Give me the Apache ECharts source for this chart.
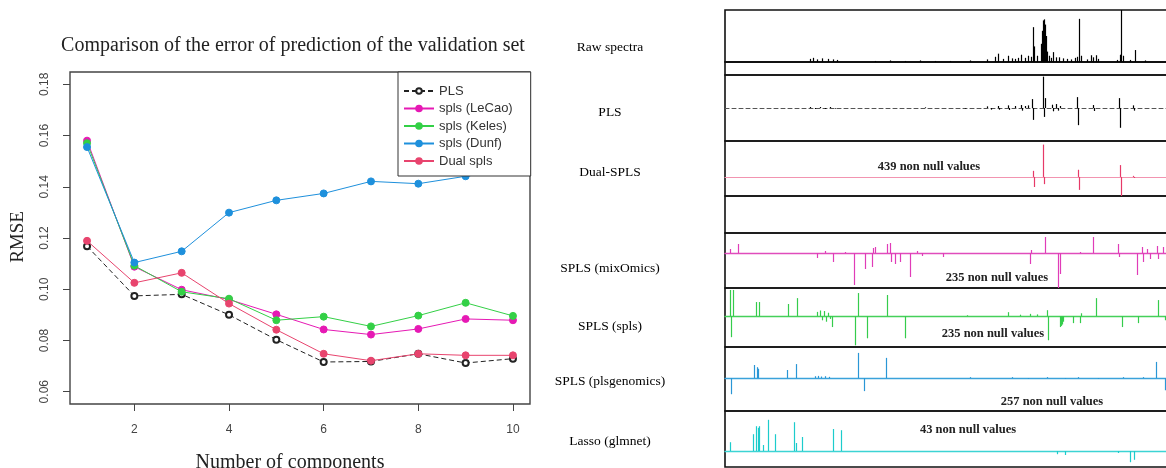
<!DOCTYPE html>
<html><head><meta charset="utf-8">
<script src="https://cdn.jsdelivr.net/npm/echarts@6/dist/echarts.min.js"></script>
<style>html,body{margin:0;padding:0;background:#fff}#c{width:1166px;height:468px}</style>
</head><body><div id="c"></div>
<script>
// ---------- Left chart data ----------
const components = [1, 2, 3, 4, 5, 6, 7, 8, 9, 10];
const xTicks = [2, 4, 6, 8, 10];
const yTicks = [0.06, 0.08, 0.10, 0.12, 0.14, 0.16, 0.18];
const seriesNames = ['PLS', 'spls (LeCao)', 'spls (Keles)', 'spls (Dunf)', 'Dual spls'];
const rmsePLS   = [0.1168, 0.0974, 0.0980, 0.0900, 0.0803, 0.0716, 0.0718, 0.0748, 0.0712, 0.0729];
const rmseLeCao = [0.1580, 0.1088, 0.0998, 0.0960, 0.0902, 0.0843, 0.0823, 0.0845, 0.0884, 0.0879];
const rmseKeles = [0.1570, 0.1092, 0.0990, 0.0963, 0.0879, 0.0893, 0.0855, 0.0897, 0.0947, 0.0896];
const rmseDunf  = [0.1555, 0.1104, 0.1148, 0.1299, 0.1347, 0.1374, 0.1421, 0.1412, 0.1441, 0.1465];
const rmseDual  = [0.1189, 0.1025, 0.1064, 0.0944, 0.0842, 0.0748, 0.0721, 0.0748, 0.0742, 0.0742];

// ---------- Right panels data: [variable index, coefficient] ----------
const panelLabels = ['Raw spectra', 'PLS', 'Dual-SPLS', '', 'SPLS (mixOmics)', 'SPLS (spls)', 'SPLS (plsgenomics)', 'Lasso (glmnet)'];
const nonNullLabels = ['439 non null values', '235 non null values', '235 non null values', '257 non null values', '43 non null values'];
const rawSpectrum = [[85,0.06],[88,0.08],[92,0.05],[97,0.07],[103,0.06],[108,0.05],[112,0.04],[150,0.02],[165,0.03],[180,0.02],[195,0.03],[210,0.02],[225,0.02],[245,0.03],[262,0.05],[270,0.1],[273,0.16],[278,0.06],[283,0.12],[287,0.07],[290,0.06],[293,0.08],[296,0.14],[300,0.08],[303,0.12],[306,0.1],[308,0.67],[309,0.3],[312,0.12],[316,0.35],[317,0.6],[318,0.8],[319,0.82],[320,0.72],[321,0.5],[322,0.2],[324,0.12],[326,0.08],[328,0.19],[331,0.09],[334,0.09],[338,0.07],[342,0.06],[346,0.05],[350,0.08],[352,0.1],[354,0.83],[356,0.12],[362,0.05],[366,0.13],[368,0.09],[371,0.13],[373,0.06],[392,0.04],[395,0.14],[396,1.3],[398,0.12],[405,0.04],[410,0.23],[420,0.03]];
const plsCoef = [[85,0.03],[90,-0.03],[95,0.03],[100,-0.03],[105,0.03],[110,-0.02],[200,0.02],[240,-0.02],[262,0.05],[266,-0.05],[273,0.06],[274,-0.05],[283,0.08],[284,-0.06],[290,0.06],[296,0.09],[297,-0.08],[300,0.06],[303,0.08],[307,0.27],[308,-0.36],[318,0.95],[319,-0.27],[320,0.3],[327,0.1],[328,-0.1],[331,0.12],[333,-0.08],[335,0.06],[352,0.33],[353,-0.52],[368,0.09],[369,-0.09],[394,0.3],[395,-0.6],[408,0.08],[409,-0.08]];
const dualCoef = [[308,0.17],[309,-0.28],[318,0.9],[319,-0.2],[353,0.2],[354,-0.36],[395,0.33],[396,-0.53],[408,0.03],[409,-0.03]];
const mixOmicsCoef = [[5,0.2],[13,0.45],[92,-0.25],[100,0.1],[108,-0.45],[120,0.05],[129,-1.6],[140,-0.8],[147,-0.7],[148,0.25],[150,0.3],[162,0.45],[165,0.5],[166,-0.45],[170,-0.55],[175,-0.45],[185,-1.2],[192,0.1],[197,-0.15],[218,-0.2],[305,-0.55],[306,0.15],[320,0.8],[333,-1.75],[335,-1.05],[355,0.05],[368,0.8],[393,0.45],[394,-0.2],[412,-1.1],[417,0.3],[418,-0.45],[422,0.2],[425,-0.3],[432,0.35],[433,-0.3],[438,0.3]];
const splsCoef = [[5,0.93],[6,-0.75],[8,0.93],[31,0.5],[34,0.5],[63,0.43],[72,0.64],[92,0.15],[95,0.2],[97,-0.15],[99,0.18],[101,-0.2],[103,0.12],[105,-0.1],[107,-0.39],[130,-1.04],[133,0.82],[142,-0.79],[162,0.75],[180,-0.79],[242,0.03],[283,0.14],[295,0.05],[305,0.08],[312,0.06],[322,0.21],[323,-0.86],[335,-0.39],[336,-0.35],[337,-0.3],[338,-0.2],[348,-0.25],[355,-0.25],[356,0.1],[371,0.64],[397,-0.39],[413,-0.25],[433,0.57],[440,-0.15]];
const plsgenomicsCoef = [[6,-0.52],[29,0.42],[32,0.35],[33,0.3],[62,0.26],[71,0.45],[90,0.06],[93,0.07],[96,0.05],[100,0.06],[104,0.04],[133,0.81],[139,-0.42],[161,0.65],[245,0.03],[287,0.03],[303,-0.03],[322,0.03],[340,-0.03],[353,0.03],[373,-0.03],[398,0.03],[418,0.03],[431,0.52],[440,-0.39]];
const lassoCoef = [[5,0.22],[28,0.42],[31,0.62],[33,0.58],[34,0.62],[38,0.15],[43,0.78],[50,0.42],[69,0.72],[71,0.2],[77,0.35],[108,0.55],[116,0.52],[332,-0.08],[340,-0.1],[393,-0.05],[405,-0.28],[409,-0.22]];

// ---------- layout ----------
const SERIF = '"Liberation Serif", "DejaVu Serif", serif';
const SANS = '"Liberation Sans", Arial, sans-serif';
const lineColors = ['#222222', '#e619b4', '#33d046', '#1e90dc', '#e8446e'];
const rmseSets = [rmsePLS, rmseLeCao, rmseKeles, rmseDunf, rmseDual];

const panels = [
  { top: 10,  h: 65, min: -0.25, max: 1, color: '#000000', data: rawSpectrum, base: {color:'#111', width:1.8} },
  { top: 75,  h: 66, min: -1,    max: 1, color: '#000000', data: plsCoef, base: {color:'#555', width:1, type:[4,3]} },
  { top: 141, h: 55, min: -0.53, max: 1, color: '#e63a68', data: dualCoef, base: {color:'#f294b0', width:1.2} },
  { top: 196, h: 37, min: -1,    max: 1, color: '#ffffff', data: [], base: null },
  { top: 233, h: 55, min: -1.75, max: 1, color: '#e03cb8', data: mixOmicsCoef, base: {color:'#e04cbc', width:1.4} },
  { top: 288, h: 59, min: -1.1,  max: 1, color: '#35cc4c', data: splsCoef, base: {color:'#45d05a', width:1.4} },
  { top: 347, h: 64, min: -1.06, max: 1, color: '#2a96d6', data: plsgenomicsCoef, base: {color:'#3aa2da', width:1.4} },
  { top: 411, h: 56, min: -0.4,  max: 1, color: '#1ccccc', data: lassoCoef, base: {color:'#3cd4d4', width:1.4} }
];
const panelLabelY = [47, 112, 172, 0, 268, 326, 381, 441];
const nonNullPos = [[929,167],[997,278],[993,334],[1052,402],[968,430]];

const grids = [{ left: 70, top: 72, width: 460, height: 332, show: true, borderColor: '#444', borderWidth: 1.4, outerBoundsMode: 'none' }];
const xAxes = [{
  gridIndex: 0, type: 'value', min: 0.64, max: 10.36,
  axisLine: { show: false }, splitLine: { show: false },
  axisTick: { show: true, customValues: xTicks, length: 7, lineStyle: { color: '#444' } },
  axisLabel: { customValues: xTicks, margin: 20, fontFamily: SANS, fontSize: 12, color: '#444' }
}];
const yAxes = [{
  gridIndex: 0, type: 'value', min: 0.0552, max: 0.1848,
  axisLine: { show: false }, splitLine: { show: false },
  axisTick: { show: true, customValues: yTicks, length: 7, lineStyle: { color: '#444' } },
  axisLabel: { customValues: yTicks, rotate: 90, margin: 19, fontFamily: SANS, fontSize: 12, color: '#444',
    formatter: v => v.toFixed(2) }
}];
const series = seriesNames.map((name, k) => ({
  name, type: 'line', xAxisIndex: 0, yAxisIndex: 0,
  data: components.map((c, i) => [c, rmseSets[k][i]]),
  symbol: k === 0 ? 'emptyCircle' : 'circle',
  symbolSize: k === 0 ? 6 : 7,
  lineStyle: { color: lineColors[k], width: 1, type: k === 0 ? [5, 3] : 'solid' },
  itemStyle: { color: lineColors[k], borderColor: k === 0 ? '#444' : lineColors[k], borderWidth: 1 },
  emphasis: { disabled: true }, animation: false, z: 2 + k
}));

panels.forEach((p, i) => {
  const gi = i + 1;
  grids.push({ left: 725, top: p.top, width: 460, height: p.h, show: true, borderColor: '#111', borderWidth: 1.6, outerBoundsMode: 'none' });
  xAxes.push({
    gridIndex: gi, type: 'value', min: -0.5, max: 459.5,
    axisLine: { show: !!p.base, onZero: true, lineStyle: p.base || {} },
    axisTick: { show: false }, axisLabel: { show: false }, splitLine: { show: false }
  });
  yAxes.push({
    gridIndex: gi, type: 'value', min: p.min, max: p.max, show: false,
    splitLine: { show: false }
  });
  series.push({
    type: 'bar', xAxisIndex: gi, yAxisIndex: gi, data: p.data, barWidth: 1.2,
    itemStyle: { color: p.color }, animation: false, emphasis: { disabled: true }, clip: true, silent: true
  });
});

const graphics = [
  { type: 'text', x: 293, y: 46, style: { text: 'Comparison of the error of prediction of the validation set', font: '20px ' + SERIF, fill: '#222', textAlign: 'center', textVerticalAlign: 'middle' } },
  { type: 'text', x: 290, y: 463, style: { text: 'Number of components', font: '20px ' + SERIF, fill: '#222', textAlign: 'center', textVerticalAlign: 'middle' } },
  { type: 'text', x: 18, y: 237, rotation: Math.PI / 2, style: { text: 'RMSE', font: '19px ' + SERIF, fill: '#222', textAlign: 'center', textVerticalAlign: 'middle' } }
];
panelLabels.forEach((t, i) => {
  if (!t) return;
  graphics.push({ type: 'text', x: 610, y: panelLabelY[i], style: { text: t, font: '13.5px ' + SERIF, fill: '#000', textAlign: 'center', textVerticalAlign: 'middle' } });
});
nonNullLabels.forEach((t, i) => {
  graphics.push({ type: 'text', x: nonNullPos[i][0], y: nonNullPos[i][1], z: 50, style: { text: t, font: 'bold 12.5px ' + SERIF, fill: '#222', textAlign: 'center', textVerticalAlign: 'middle' } });
});

const chart = echarts.init(document.getElementById('c'), null, { renderer: 'canvas' });
chart.setOption({
  backgroundColor: '#fff',
  animation: false,
  grid: grids, xAxis: xAxes, yAxis: yAxes, series,
  legend: {
    data: seriesNames, orient: 'vertical', left: 398, top: 72,
    padding: [12, 18, 8, 5], itemGap: 3.5, itemWidth: 30, itemHeight: 7,
    backgroundColor: '#fff', borderColor: '#333', borderWidth: 1, borderRadius: 0,
    selectedMode: false, z: 20,
    textStyle: { fontFamily: SANS, fontSize: 13, color: '#333', lineHeight: 14 }
  },
  graphic: graphics
});
</script></body></html>
